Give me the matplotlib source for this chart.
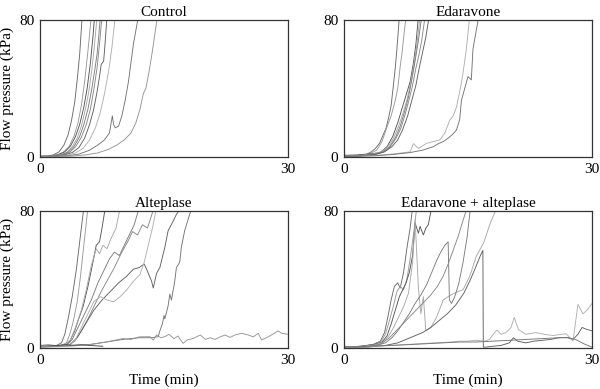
import matplotlib
matplotlib.use("Agg")
import matplotlib.pyplot as plt

plt.rcParams['font.family'] = ['Liberation Serif', 'DejaVu Serif']

# panel titles
titles = ["Control", "Edaravone", "Alteplase", "Edaravone + alteplase"]

# Control: time (min) / flow pressure (kPa) per run
control_t = [
    [0, 0.8, 1.6, 2.3, 2.9, 3.4, 3.8, 4.2, 4.5, 4.8, 5.1],
    [0, 1, 2, 2.8, 3.5, 4.1, 4.6, 5.0, 5.4, 5.8, 6.2],
    [0, 1, 2.2, 3.0, 3.7, 4.3, 4.8, 5.3, 5.7, 6.1, 6.4, 6.6],
    [0, 1.2, 2.4, 3.2, 3.9, 4.5, 5.0, 5.5, 5.9, 6.3, 6.6, 6.9],
    [0, 1.3, 2.5, 3.4, 4.1, 4.8, 5.3, 5.8, 6.2, 6.6, 6.9, 7.1, 7.3],
    [0, 1.4, 2.7, 3.6, 4.3, 5.0, 5.6, 6.1, 6.5, 6.9, 7.2, 7.5],
    [0, 1.5, 2.9, 3.9, 4.7, 5.4, 6.0, 6.5, 6.9, 7.2, 7.4, 7.7, 7.9, 8.1],
    [0, 1.8, 3.2, 4.3, 5.2, 6.0, 6.7, 7.3, 7.8, 8.3, 8.7, 9.1],
    [0, 2, 3.5, 4.8, 6.0, 7.0, 7.8, 8.4, 8.75, 8.9, 9.1, 9.5, 9.9, 10.3, 10.7, 11.0, 11.3, 11.6, 11.9],
    [0, 2, 4, 5.5, 7, 8.3, 9.3, 10.2, 11.0, 11.6, 12.1, 12.5, 12.8, 13.2, 13.6, 13.9, 14.2],
]
control_p = [
    [0.5, 0.6, 1.2, 3, 7, 13, 21, 32, 45, 60, 82],
    [0.5, 0.6, 1.2, 2.8, 6, 12, 20, 30, 44, 62, 82],
    [0.4, 0.5, 1.3, 3, 6.5, 12, 19, 29, 40, 55, 70, 82],
    [0.3, 0.5, 1.2, 2.6, 6, 11, 18, 28, 38, 52, 66, 82],
    [0.3, 0.4, 1.1, 2.8, 6, 12, 19, 28, 38, 50, 60, 70, 82],
    [0.2, 0.4, 1.2, 2.8, 6, 11.5, 19, 28, 39, 52, 66, 82],
    [0.2, 0.4, 1.1, 2.6, 5.5, 11, 19, 28, 38, 47, 54, 56, 68, 82],
    [0.2, 0.3, 1.0, 2.4, 5, 10, 17, 26, 37, 50, 64, 82],
    [0.2, 0.3, 0.8, 1.8, 4, 7, 10, 14, 24, 19, 17, 18, 24, 33, 44, 55, 66, 74, 82],
    [0.1, 0.2, 0.6, 1.2, 2.4, 4.5, 7, 10, 14, 20, 28, 37, 40, 50, 62, 72, 82],
]

# Edaravone
edaravone_t = [
    [0, 1.5, 2.7, 3.3, 3.8, 4.3, 4.75, 5.1, 5.4, 5.7, 6.0, 6.2, 6.4, 6.7],
    [0, 1.8, 3.0, 3.95, 4.6, 5.2, 5.7, 6.2, 6.5, 6.8, 7.0, 7.2, 7.5],
    [0, 0.08, 1.5, 3.0, 4.35, 5.2, 5.9, 6.5, 7.0, 7.5, 8.0, 8.4, 8.7, 9.0],
    [0, 2, 3.5, 4.5, 5.3, 6.0, 6.6, 7.1, 7.6, 8.0, 8.4, 8.8, 9.2],
    [0, 2, 3.6, 4.7, 5.5, 6.2, 6.8, 7.3, 7.8, 8.2, 8.6, 9.0, 9.4],
    [0, 2, 3.7, 4.8, 5.6, 6.3, 6.9, 7.4, 7.9, 8.3, 8.7, 9.0, 9.4, 9.8],
    [0, 2, 3.8, 4.9, 5.8, 6.5, 7.1, 7.7, 8.2, 8.7, 9.1, 9.5, 9.9, 10.3],
    [0, 2, 4, 6, 8.0, 8.4, 9.0, 10.0, 10.8, 11.6, 12.2, 12.8, 13.2, 13.6, 14.0, 14.4, 14.8, 15.2],
    [0, 2, 4, 6, 8, 9.5, 10.8, 11.5, 12.0, 12.6, 13.1, 13.6, 14.0, 14.2, 14.6, 15.0, 15.4, 15.6, 16.0, 16.3],
]
edaravone_p = [
    [0.5, 0.8, 1.5, 3, 5, 8, 13, 17, 23, 30, 43, 52, 63, 82],
    [0.4, 0.7, 1.5, 4, 9, 17.6, 24, 33, 40, 53, 60, 69, 82],
    [20, 1.0, 1.2, 1.8, 2.5, 6, 12, 20, 28, 36, 44, 55, 66, 82],
    [0.4, 0.9, 1.8, 3, 6, 11, 18, 25, 33, 42, 52, 65, 82],
    [0.3, 0.8, 1.6, 3, 6, 11, 18, 26, 35, 45, 56, 68, 82],
    [0.3, 0.7, 1.5, 3, 6, 11, 17, 25, 34, 42, 52, 58, 68, 82],
    [0.3, 0.7, 1.4, 3, 6, 10, 16, 24, 33, 42, 52, 61, 70, 82],
    [0.3, 0.6, 1.0, 1.8, 3, 7.8, 5, 8, 9, 10, 14, 21.6, 24, 29, 38, 49, 63, 82],
    [0.2, 0.5, 0.8, 1.5, 2.6, 4, 6, 8, 9, 11, 13, 15.7, 22, 33, 40, 47, 45, 63, 74, 82],
]

# Alteplase
alteplase_t = [
    [0, 1.2, 2.0, 2.6, 3.0, 3.4, 3.9, 4.4, 4.8, 5.3],
    [0, 1.5, 2.5, 3.2, 3.6, 4.0, 4.5, 4.9, 5.3, 5.8],
    [0, 2, 3, 3.6, 4.2, 4.6, 5.2, 5.8, 6.4, 6.8, 7.2, 7.5, 7.9],
    [0, 2, 3, 3.7, 4.3, 5.0, 5.6, 6.2, 6.8, 7.2, 7.6, 8.1, 8.6, 9.2, 9.7],
    [0, 2, 3.2, 3.9, 4.6, 5.4, 6.2, 7.0, 7.8, 8.4, 9.0, 9.6, 10.2, 10.8, 11.4, 12.0],
    [0, 2, 3.5, 4.2, 5.0, 5.8, 6.6, 7.4, 8.2, 9.0, 9.8, 10.6, 11.2, 11.8, 12.4, 13.0, 13.4, 13.8],
    [0, 2, 3.5, 4.5, 5.5, 6.5, 7.5, 8.5, 9.5, 10.5, 11.3, 12.0, 12.6, 12.9, 13.5, 13.7, 14.1, 14.5,
     15.1, 15.5, 16.1, 16.5, 17.1],
    [0, 2, 3.5, 4.3, 5.0, 5.8, 6.5, 7.3, 8.1, 8.9, 9.7, 10.5, 11.3, 12.1, 12.6, 13.1, 13.6, 14.1],
    [0, 2, 4, 6, 8, 10, 12, 13.5, 14.3, 14.5, 14.8, 15.0, 15.1, 15.5, 15.7, 15.9, 16.3, 16.5, 16.9,
     17.1, 17.5, 18.1, 18.4],
    [0, 2, 4, 6, 8, 9, 10, 11, 12, 13.3, 13.7, 14.1, 14.6, 15.1, 15.6, 16.2, 16.7, 17.3, 17.8, 18.5,
     19.4, 20.0, 20.6, 21.2, 21.8, 22.4, 23.0, 23.6, 24.4, 25.2, 25.8, 26.4, 26.8, 27.4, 28.0, 28.8,
     29.2, 30],
    [0, 1, 2, 3, 4, 5, 6, 7, 7.6],
]
alteplase_p = [
    [0.8, 1, 1.5, 3, 8, 17, 30, 46, 62, 82],
    [0.8, 1, 1.5, 3, 8, 15, 27, 42, 60, 82],
    [0.8, 1.2, 1.5, 4, 10, 16, 24, 36, 50, 60, 62, 70, 82],
    [0.8, 1.2, 1.6, 5, 12, 22, 34, 48, 58, 55, 60, 58, 64, 70, 82],
    [0.8, 1.2, 1.6, 5, 12, 20, 28, 38, 46, 52, 56, 54, 60, 66, 72, 82],
    [0.8, 1.2, 1.6, 4, 10, 17, 25, 33, 40, 47, 55, 62, 68, 66, 72, 70, 76, 82],
    [0.8, 1.2, 1.6, 6, 14, 22, 28, 33, 38, 42, 46, 47, 49, 46, 39, 35, 43.6, 47,
     58.8, 68.5, 74, 78, 82],
    [0.8, 1.2, 1.6, 5, 12, 20, 27, 30, 28, 27, 30, 34, 39, 43, 50, 60, 70, 82],
    [0.5, 1, 1.5, 2, 3.5, 5, 6, 6, 6.6, 10, 14, 19, 17, 24.7, 31.5, 28, 39, 47, 50,
     58.8, 68.5, 78, 82],
    [0.5, 0.8, 1.2, 2, 3.5, 4.5, 5.5, 5, 6.5, 6.6, 4.7, 7.6, 6, 6.6, 8, 5.5, 7, 2.7, 4.7, 5.5,
     7.6, 5, 6, 5, 6.5, 7.6, 6.2, 7.6, 8.6, 7.6, 6.5, 8.6, 4.7, 6, 7.6, 10, 8.6, 8],
    [1.5, 1.8, 1.4, 2, 1.6, 1.9, 1.5, 1.2, 1.0],
]

# Edaravone + alteplase
combo_t = [
    [0, 2, 3.5, 4.4, 4.9, 5.3, 5.7, 6.1, 6.5, 6.8, 7.2, 7.6, 8.0, 8.3],
    [0, 2, 3.5, 4.5, 5.0, 5.5, 6.0, 6.4, 6.8, 7.2, 7.6, 8.0, 8.4, 8.8],
    [0, 2, 3.6, 4.6, 5.2, 5.7, 6.2, 6.7, 7.1, 7.5, 7.9, 8.3, 8.6, 9.0, 9.2, 9.6, 9.9, 10.2, 10.6],
    [0, 2, 3.7, 4.8, 5.4, 6.0, 6.6, 7.2, 7.8, 8.3, 8.6, 9.0, 9.3, 9.6, 9.9, 10.5, 11.2, 12.0,
     12.6, 13.2, 13.8, 14.4, 15.2, 16.0, 16.9, 17.7, 18.5],
    [0, 2.5, 4, 5, 5.8, 6.5, 7.2, 7.9, 8.6, 9.3, 10, 10.6, 11.2, 11.7, 12.2, 12.6, 12.75, 13.0,
     13.4, 13.9, 14.4, 14.9, 15.3],
    [0, 3, 4.5, 5.5, 6.5, 7.5, 8.5, 9.5, 10.5, 11.3, 12.0, 12.6, 13.2, 13.8, 14.3, 14.9],
    [0, 3, 5, 6.5, 7.5, 8.5, 9.5, 10.5, 11.5, 12.5, 13.5, 14.5, 15.3, 16.0, 16.5, 16.8, 16.85,
     17.2, 18, 19, 20, 20.5, 21, 22, 23, 24, 25, 26, 27, 27.7, 28.3, 28.8, 29.3, 30],
    [0, 3, 6, 9, 11, 13, 14, 15, 16, 17, 17.6, 18.05, 18.5, 19, 19.6, 20.2, 20.6, 21.1, 22, 23.2,
     24.2, 25.3, 26.3, 26.9, 27.7, 28.3, 28.9, 29.4, 30],
    [0, 0.08, 2, 4, 6, 8, 10, 12, 14, 16, 18, 20, 22, 24, 26, 27, 28, 29, 30],
]
combo_p = [
    [0.5, 1, 2, 4, 9, 18, 28, 36, 38, 35, 44, 58, 70, 82],
    [0.5, 1, 2, 4, 8, 16, 25, 33, 36, 34, 40, 52, 66, 82],
    [0.5, 1, 2, 3.5, 7, 14, 22, 30, 34, 38, 44, 54, 73, 67, 71, 66, 70, 72, 82],
    [0.4, 0.8, 1.8, 3.5, 7, 12, 18, 24, 32, 50, 75, 35, 20, 30, 10, 12, 18, 28,
     30, 31.6, 33, 34, 41.7, 53.5, 61.5, 73, 82],
    [0.4, 0.8, 1.6, 3, 6, 10, 15, 20, 26, 31, 37, 44, 51, 56, 60, 62, 28, 26,
     30, 38, 50, 65, 82],
    [0.4, 0.8, 2.5, 6, 11, 16, 21, 26, 31, 36, 42, 49, 57, 65, 73, 82],
    [0.3, 0.6, 1.5, 3, 5, 7, 9, 12, 16, 20, 25, 32, 40, 48, 54, 57, 0.5,
     0.5, 1, 1.5, 3, 6, 4, 3, 4, 4.5, 5, 6, 6, 5, 8, 12, 11, 10],
    [0.3, 0.8, 1.5, 2.5, 3, 3.5, 4, 4, 4.5, 4, 5, 8, 10.5, 8, 9, 12, 17.8, 10.7, 8, 9,
     8, 7.3, 8, 8.3, 4, 25.5, 20, 22, 26],
    [18, 0.6, 0.8, 1.2, 1.6, 2, 2.5, 3, 3.5, 3.5, 4, 4.5, 5, 5.5, 6, 6.2, 5, 2.5, 0.5],
]

panels = [(control_t, control_p), (edaravone_t, edaravone_p),
          (alteplase_t, alteplase_p), (combo_t, combo_p)]

grays = ['#6a6a6a', '#999999', '#555555', '#a8a8a8', '#7c7c7c', '#888888', '#606060', '#b0b0b0', '#747474',
         '#959595', '#4a4a4a']

fig = plt.figure(figsize=(6, 3.89), dpi=100)
lefts = [40 / 600, 344 / 600]
bottoms = [1 - 157 / 389, 1 - 348 / 389]
w, h = 248 / 600, 137 / 389

for k, (ts, ps) in enumerate(panels):
    ax = fig.add_axes([lefts[k % 2], bottoms[k // 2], w, h])
    for i, (t, p) in enumerate(zip(ts, ps)):
        ax.plot(t, p, color=grays[i % len(grays)], lw=0.65)
    ax.set_xlim(0, 30)
    ax.set_ylim(0, 80)
    ax.set_xticks([0, 30])
    ax.set_yticks([0, 80])
    ax.tick_params(length=0, pad=4, labelsize=11)
    for s in ax.spines.values():
        s.set_color('#333333')
        s.set_linewidth(0.9)
    ax.set_title(titles[k], fontsize=11, pad=3)
    if k % 2 == 0:
        ax.set_ylabel("Flow pressure (kPa)", fontsize=11, labelpad=4)
    if k // 2 == 1:
        ax.set_xlabel("Time (min)", fontsize=11, labelpad=5)

fig.savefig("out.png", dpi=100)
